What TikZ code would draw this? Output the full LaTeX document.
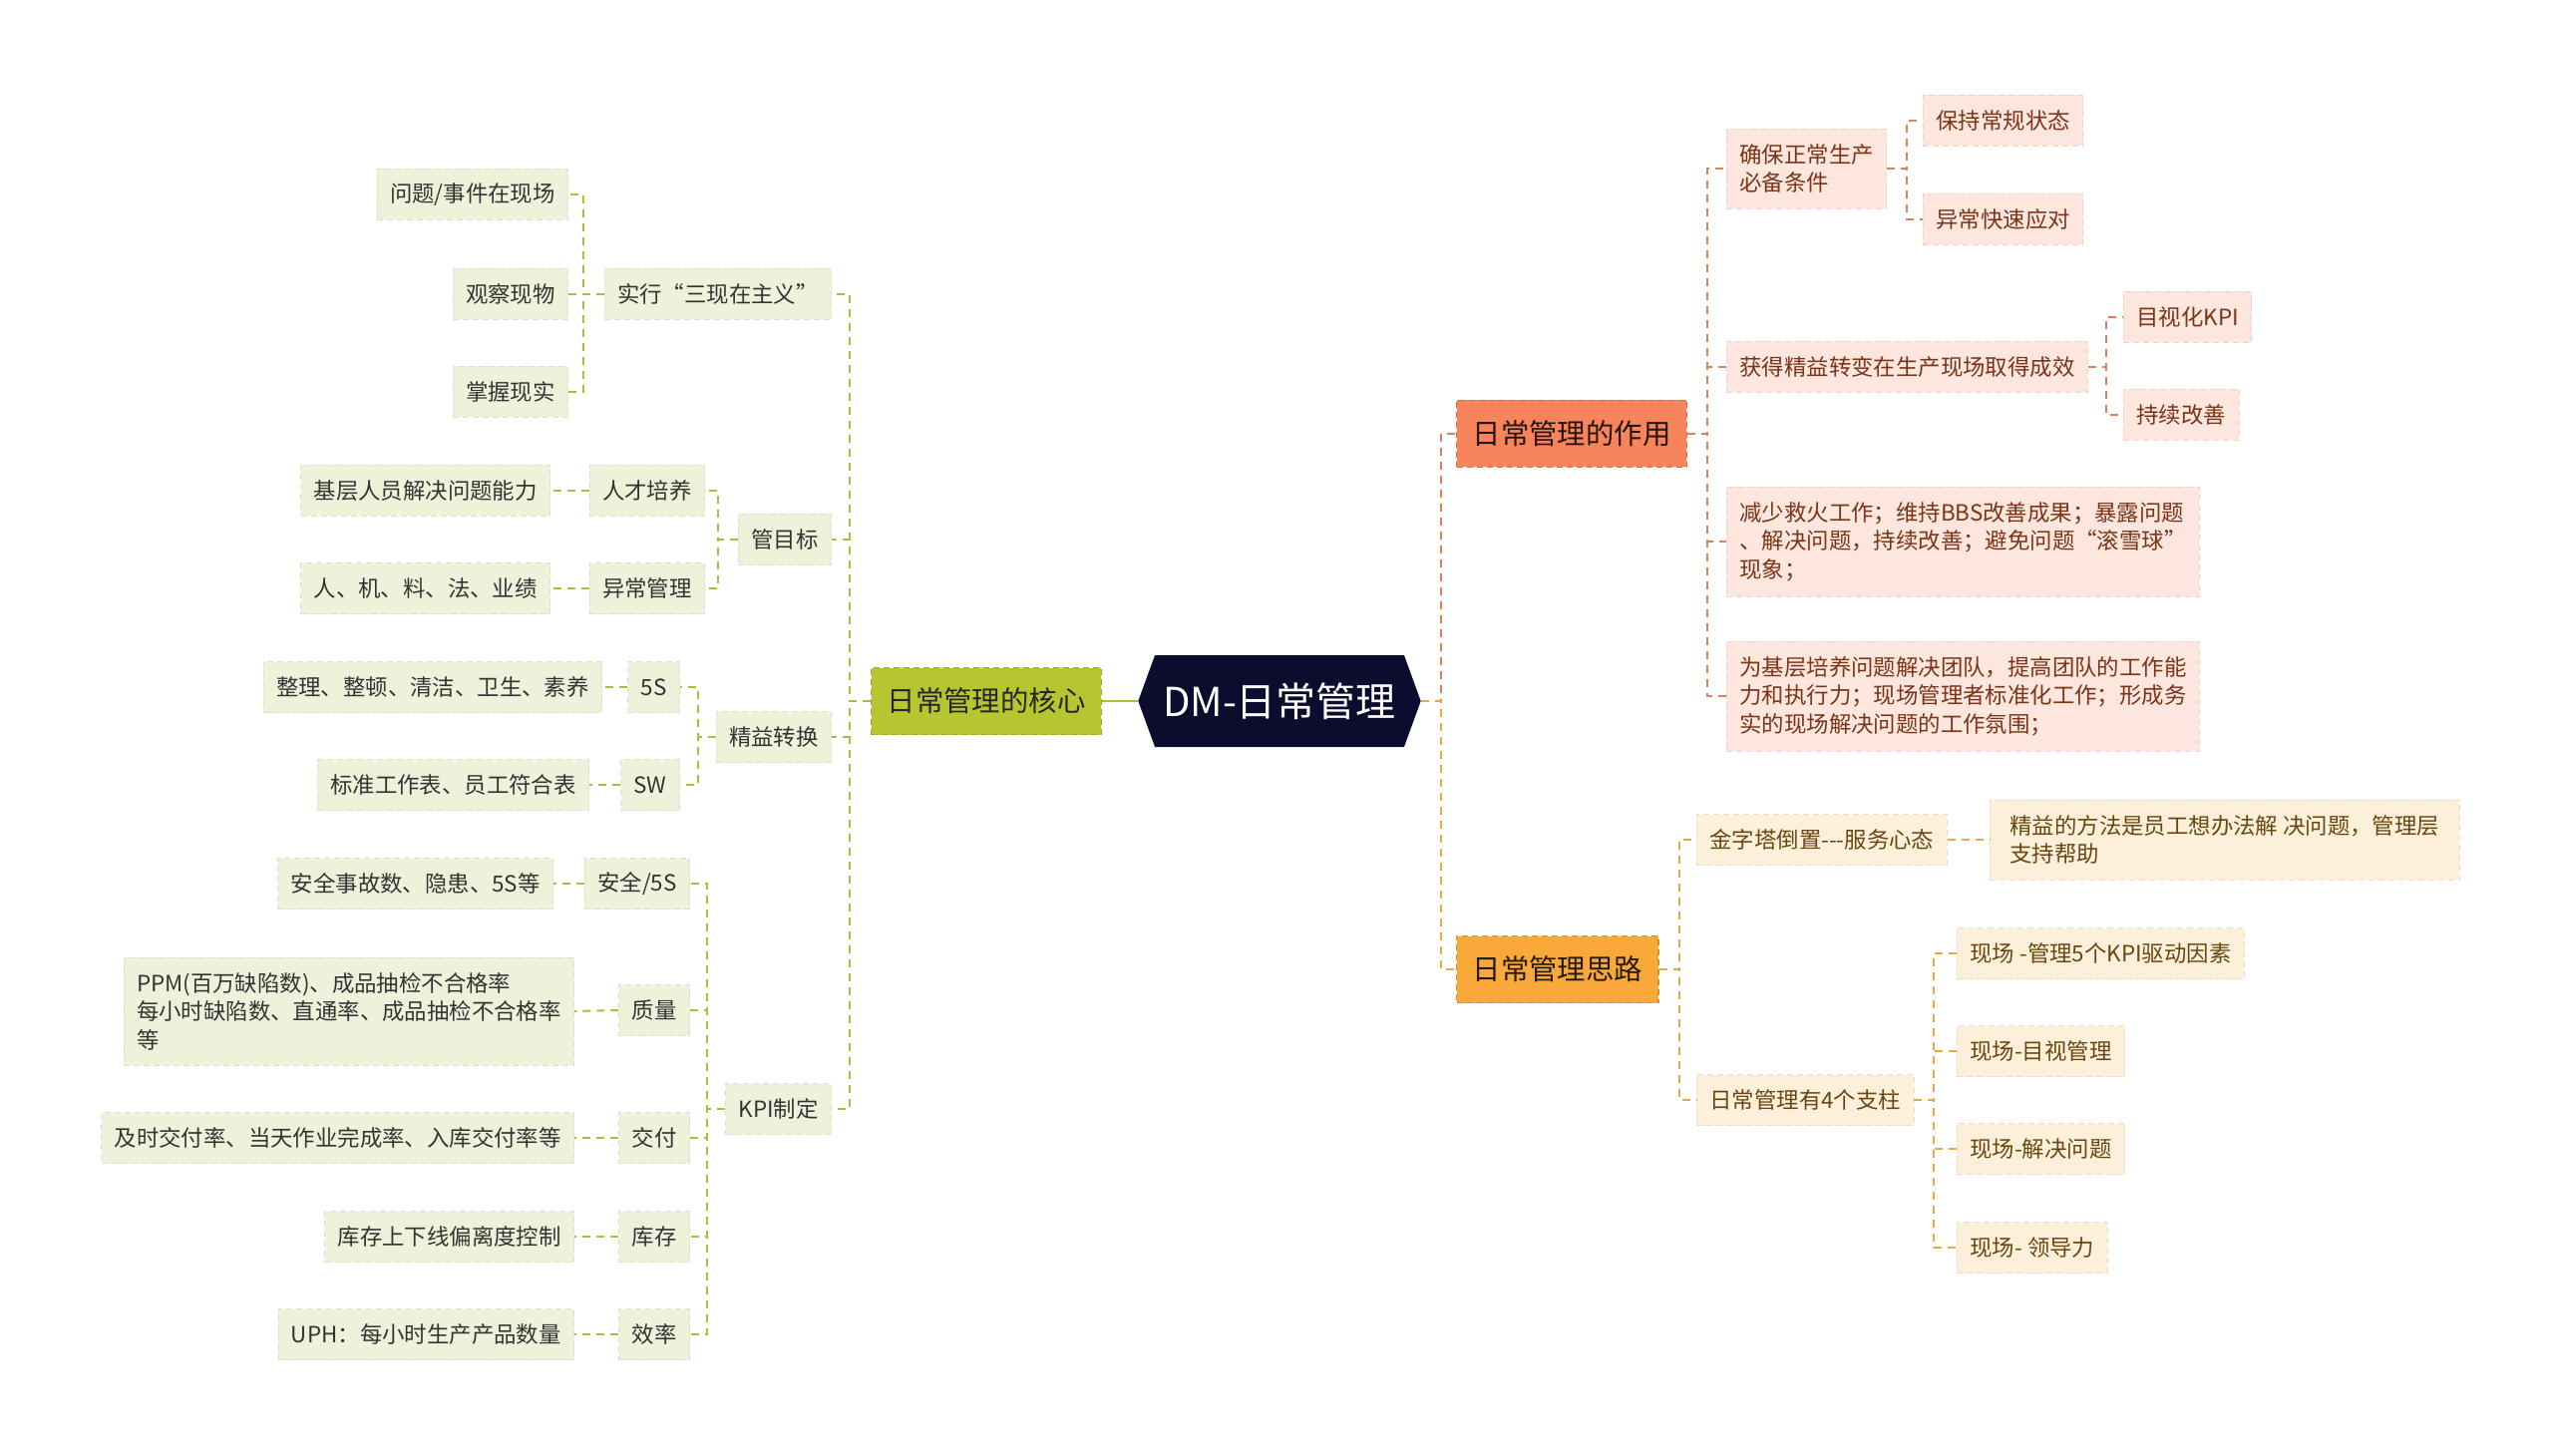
\documentclass[tikz,border=0pt]{standalone}
\usepackage{fontspec}
\setmainfont{Noto Sans CJK SC}
\usetikzlibrary{shapes.symbols}
\definecolor{rootnavy}{RGB}{11,12,46}
\definecolor{coregreen}{RGB}{183,197,48}
\definecolor{leafgreen}{RGB}{239,242,219}
\definecolor{linegreen}{RGB}{168,190,60}
\definecolor{usered}{RGB}{247,132,90}
\definecolor{leafpink}{RGB}{253,230,221}
\definecolor{linered}{RGB}{218,128,90}
\definecolor{textred}{RGB}{122,52,24}
\definecolor{ideaorange}{RGB}{249,169,58}
\definecolor{leafcream}{RGB}{253,240,218}
\definecolor{lineorange}{RGB}{232,168,72}
\definecolor{textbrown}{RGB}{104,70,16}
\tikzset{
  box/.style={inner xsep=6.5pt, inner ysep=4pt, minimum height=25.5pt,
    dash pattern=on 3pt off 2pt, line width=0.4pt,
    font=\fontsize{11.2pt}{14.3pt}\selectfont},
  leafL/.style={box, fill=leafgreen, draw=leafgreen!92!black, text=black!80},
  leafR/.style={box, fill=leafpink, draw=leafpink!92!black, text=textred},
  leafY/.style={box, fill=leafcream, draw=leafcream!92!black, text=textbrown},
  topic/.style={inner xsep=8pt, minimum height=33.5pt,
    dash pattern=on 3pt off 2pt, line width=0.6pt,
    font=\fontsize{14.2pt}{17pt}\selectfont},
  lline/.style={draw=linegreen, line width=1pt, dash pattern=on 4pt off 3pt},
  rline/.style={draw=linered, line width=1pt, dash pattern=on 4pt off 3pt},
  yline/.style={draw=lineorange, line width=1pt, dash pattern=on 4pt off 3pt}
}
\begin{document}
\begin{tikzpicture}[x=0.5pt,y=-0.5pt,
    root/.style={signal, signal to=east and west, signal pointer angle=140,
      fill=rootnavy, text=white, minimum width=137.5pt, minimum height=46pt,
      inner xsep=4pt, font=\fontsize{20pt}{24pt}\selectfont}]
  \useasboundingbox (0,0) rectangle (2560,1460);
  \node[root] (dm) at (1283,703) {DM-日常管理};
  \node[topic, anchor=east, fill=coregreen, draw=coregreen!85!black, text=black!85] (hexin) at (1105,703) {日常管理的核心};
  \node[topic, anchor=west, fill=usered, draw=usered!85!black, text=black!85!usered] (zuoyong) at (1460,435) {日常管理的作用};
  \node[topic, anchor=west, fill=ideaorange, draw=ideaorange!85!black, text=black!85!ideaorange] (silu) at (1460,972) {日常管理思路};

  \node[leafL, anchor=east] (sanxian) at (834,295) {实行“三现在主义”};
  \node[leafL, anchor=east] (mubiao) at (834,541) {管目标};
  \node[leafL, anchor=east] (zhuanhuan) at (834,739) {精益转换};
  \node[leafL, anchor=east] (kpi) at (834,1112) {KPI制定};
  \node[leafL, anchor=east] (xianchang) at (570,195) {问题/事件在现场};
  \node[leafL, anchor=east] (guancha) at (570,295) {观察现物};
  \node[leafL, anchor=east] (zhangwo) at (570,393) {掌握现实};
  \node[leafL, anchor=east] (rencai) at (707,492) {人才培养};
  \node[leafL, anchor=east] (yichang) at (707,590) {异常管理};
  \node[leafL, anchor=east] (nengli) at (552,492) {基层人员解决问题能力};
  \node[leafL, anchor=east] (renji) at (552,590) {人、机、料、法、业绩};
  \node[leafL, anchor=east] (wus) at (682,689) {5S};
  \node[leafL, anchor=east] (sw) at (682,787) {SW};
  \node[leafL, anchor=east] (zhengli) at (604,689) {整理、整顿、清洁、卫生、素养};
  \node[leafL, anchor=east] (biaozhun) at (591,787) {标准工作表、员工符合表};
  \node[leafL, anchor=east] (anquan) at (692,886) {安全/5S};
  \node[leafL, anchor=east] (zhiliang) at (692,1013) {质量};
  \node[leafL, anchor=east] (jiaofu) at (692,1141) {交付};
  \node[leafL, anchor=east] (kucun) at (692,1240) {库存};
  \node[leafL, anchor=east] (xiaolv) at (692,1338) {效率};
  \node[leafL, anchor=east] (shigu) at (555,886) {安全事故数、隐患、5S等};
  \node[leafL, anchor=east, align=left, minimum height=54pt] (ppm) at (576,1014) {PPM(百万缺陷数)、成品抽检不合格率\\每小时缺陷数、直通率、成品抽检不合格率\\等};
  \node[leafL, anchor=east] (jishi) at (576,1141) {及时交付率、当天作业完成率、入库交付率等};
  \node[leafL, anchor=east] (pianli) at (576,1240) {库存上下线偏离度控制};
  \node[leafL, anchor=east] (uph) at (576,1338) {UPH：每小时生产产品数量};

  \node[leafR, anchor=west, align=left, minimum height=40pt] (quebao) at (1731,169) {确保正常生产\\必备条件};
  \node[leafR, anchor=west] (huode) at (1731,368) {获得精益转变在生产现场取得成效};
  \node[leafR, anchor=west, align=left, minimum height=55pt] (jianshao) at (1731,543) {减少救火工作；维持BBS改善成果；暴露问题\\、解决问题，持续改善；避免问题“滚雪球”\\现象；};
  \node[leafR, anchor=west, align=left, minimum height=55pt] (peiyang) at (1731,698) {为基层培养问题解决团队，提高团队的工作能\\力和执行力；现场管理者标准化工作；形成务\\实的现场解决问题的工作氛围；};
  \node[leafR, anchor=west] (changgui) at (1928,121) {保持常规状态};
  \node[leafR, anchor=west] (kuaisu) at (1928,220) {异常快速应对};
  \node[leafR, anchor=west] (mushi) at (2129,318) {目视化KPI};
  \node[leafR, anchor=west] (gaishan) at (2129,416) {持续改善};

  \node[leafY, anchor=west] (jinzita) at (1701,842) {金字塔倒置-{}-{}-服务心态};
  \node[leafY, anchor=west, align=left, minimum height=40pt, inner xsep=10pt] (fangfa) at (1995,842) {精益的方法是员工想办法解 决问题，管理层\\支持帮助};
  \node[leafY, anchor=west] (zhizhu) at (1701,1103) {日常管理有4个支柱};
  \node[leafY, anchor=west] (kpiyinsu) at (1962,956) {现场 -管理5个KPI驱动因素};
  \node[leafY, anchor=west] (muguan) at (1962,1054) {现场-目视管理};
  \node[leafY, anchor=west] (jiejue) at (1962,1152) {现场-解决问题};
  \node[leafY, anchor=west] (lingdao) at (1962,1251) {现场- 领导力};

  \begin{scope}[lline]
    \draw[solid] (dm.west) -- (hexin.east);
    \draw (hexin.west) -- ++(-21,0) |- (sanxian.east);
    \draw (hexin.west) -- ++(-21,0) |- (mubiao.east);
    \draw (hexin.west) -- ++(-21,0) |- (zhuanhuan.east);
    \draw (hexin.west) -- ++(-21,0) |- (kpi.east);
    \draw (sanxian.west) -- ++(-21,0) |- (xianchang.east);
    \draw (sanxian.west) -- ++(-21,0) |- (guancha.east);
    \draw (sanxian.west) -- ++(-21,0) |- (zhangwo.east);
    \draw (mubiao.west) -- ++(-20,0) |- (rencai.east);
    \draw (mubiao.west) -- ++(-20,0) |- (yichang.east);
    \draw (rencai.west) -- (nengli.east);
    \draw (yichang.west) -- (renji.east);
    \draw (zhuanhuan.west) -- ++(-18,0) |- (wus.east);
    \draw (zhuanhuan.west) -- ++(-18,0) |- (sw.east);
    \draw (wus.west) -- (zhengli.east);
    \draw (sw.west) -- (biaozhun.east);
    \draw (kpi.west) -- ++(-18,0) |- (anquan.east);
    \draw (kpi.west) -- ++(-18,0) |- (zhiliang.east);
    \draw (kpi.west) -- ++(-18,0) |- (jiaofu.east);
    \draw (kpi.west) -- ++(-18,0) |- (kucun.east);
    \draw (kpi.west) -- ++(-18,0) |- (xiaolv.east);
    \draw (anquan.west) -- (shigu.east);
    \draw (zhiliang.west) -- (ppm.east);
    \draw (jiaofu.west) -- (jishi.east);
    \draw (kucun.west) -- (pianli.east);
    \draw (xiaolv.west) -- (uph.east);
  \end{scope}
  \begin{scope}[rline]
    \draw (dm.east) -- ++(20,0) |- (zuoyong.west);
    \draw (zuoyong.east) -- ++(20,0) |- (quebao.west);
    \draw (zuoyong.east) -- ++(20,0) |- (huode.west);
    \draw (zuoyong.east) -- ++(20,0) |- (jianshao.west);
    \draw (zuoyong.east) -- ++(20,0) |- (peiyang.west);
    \draw (quebao.east) -- ++(20,0) |- (changgui.west);
    \draw (quebao.east) -- ++(20,0) |- (kuaisu.west);
    \draw (huode.east) -- ++(18,0) |- (mushi.west);
    \draw (huode.east) -- ++(18,0) |- (gaishan.west);
  \end{scope}
  \begin{scope}[yline]
    \draw (dm.east) -- ++(20,0) |- (silu.west);
    \draw (silu.east) -- ++(20,0) |- (jinzita.west);
    \draw (silu.east) -- ++(20,0) |- (zhizhu.west);
    \draw (jinzita.east) -- (fangfa.west);
    \draw (zhizhu.east) -- ++(20,0) |- (kpiyinsu.west);
    \draw (zhizhu.east) -- ++(20,0) |- (muguan.west);
    \draw (zhizhu.east) -- ++(20,0) |- (jiejue.west);
    \draw (zhizhu.east) -- ++(20,0) |- (lingdao.west);
  \end{scope}
\end{tikzpicture}
\end{document}
